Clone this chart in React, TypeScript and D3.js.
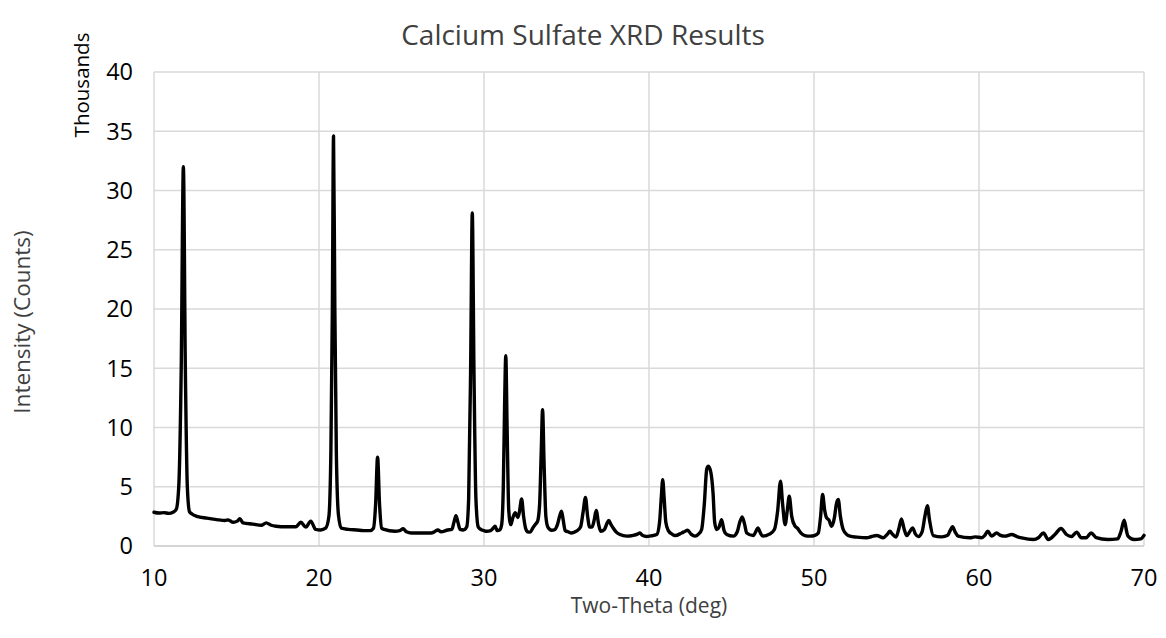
import React from "react";
import * as d3 from "d3";

const title = "Calcium Sulfate XRD Results";
const xTitle = "Two-Theta (deg)";
const yTitle = "Intensity (Counts)";
const yUnit = "Thousands";
const xTicks = [10, 20, 30, 40, 50, 60, 70];
const yTicks = [0, 5, 10, 15, 20, 25, 30, 35, 40];

// [two-theta (deg), intensity (thousands of counts)]
const pattern: [number, number][] = [
  [10.0, 2.85], [10.3, 2.78], [10.6, 2.82], [10.9, 2.75], [11.15, 2.85], [11.35, 3.1], [11.5, 5.0], [11.65, 15], [11.78, 32.0], [11.9, 15], [12.02, 5], [12.15, 2.9],
  [12.3, 2.7], [12.6, 2.5], [13.2, 2.35], [13.8, 2.23], [14.3, 2.15], [14.5, 2.2], [14.8, 2.0], [15.05, 2.1], [15.2, 2.3], [15.4, 1.95], [16.0, 1.85], [16.5, 1.75],
  [16.8, 1.95], [17.1, 1.75], [17.4, 1.67], [18.0, 1.62], [18.6, 1.62], [18.9, 2.0], [19.2, 1.6], [19.5, 2.1], [19.8, 1.4], [20.1, 1.35], [20.4, 1.5], [20.6, 2.5],
  [20.72, 8], [20.81, 20], [20.88, 34.6], [20.96, 20], [21.05, 8], [21.18, 2.6], [21.35, 1.5], [21.78, 1.4], [22.3, 1.35], [22.7, 1.3], [23.1, 1.3], [23.3, 1.5],
  [23.43, 3.5], [23.55, 7.49], [23.67, 3.5], [23.8, 1.5], [23.95, 1.4], [24.6, 1.25], [24.9, 1.3], [25.1, 1.45], [25.3, 1.2], [25.6, 1.1], [26.2, 1.1], [26.8, 1.1],
  [27.0, 1.2], [27.2, 1.35], [27.4, 1.2], [27.8, 1.35], [28.05, 1.4], [28.18, 2.0], [28.3, 2.55], [28.42, 2.0], [28.55, 1.4], [28.75, 1.35], [28.95, 1.6], [29.07, 4],
  [29.19, 15], [29.29, 28.1], [29.39, 15], [29.51, 4], [29.65, 1.6], [29.8, 1.4], [30.0, 1.3], [30.16, 1.25], [30.4, 1.3], [30.55, 1.5], [30.67, 1.67], [30.8, 1.3],
  [30.95, 1.35], [31.07, 1.8], [31.17, 5], [31.25, 12], [31.32, 16.06], [31.4, 10], [31.5, 3], [31.62, 1.8], [31.75, 2.4], [31.9, 2.8], [32.05, 2.4], [32.15, 2.9],
  [32.28, 3.98], [32.4, 2.5], [32.52, 1.5], [32.65, 1.2], [32.8, 1.17], [32.95, 1.5], [33.1, 1.8], [33.25, 2.1], [33.37, 3.5], [33.47, 8], [33.55, 11.5], [33.64, 7],
  [33.75, 2.5], [33.87, 1.6], [34.1, 1.33], [34.3, 1.4], [34.45, 1.8], [34.6, 2.6], [34.7, 2.93], [34.8, 2.2], [34.92, 1.3], [35.1, 1.2], [35.3, 1.1], [35.6, 1.25],
  [35.85, 1.6], [36.0, 2.8], [36.15, 4.1], [36.28, 2.5], [36.4, 1.6], [36.55, 1.6], [36.68, 2.2], [36.8, 3.0], [36.95, 1.8], [37.07, 1.25], [37.3, 1.4], [37.45, 1.9],
  [37.56, 2.15], [37.7, 1.8], [37.84, 1.5], [38.0, 1.2], [38.24, 0.97], [38.65, 0.83], [39.05, 0.9], [39.3, 1.0], [39.45, 1.1], [39.6, 0.9], [39.85, 0.8], [40.1, 0.85],
  [40.47, 0.97], [40.64, 2.0], [40.74, 4], [40.83, 5.6], [40.92, 4], [41.02, 2.0], [41.17, 1.3], [41.4, 1.0], [41.58, 0.88], [41.98, 1.1], [42.2, 1.25], [42.34, 1.33],
  [42.55, 1.0], [42.79, 0.83], [43.0, 1.0], [43.19, 1.4], [43.35, 3.5], [43.5, 6.5], [43.6, 6.73], [43.75, 6.2], [43.88, 4.5], [43.98, 2.0], [44.1, 1.39], [44.25, 1.6],
  [44.4, 2.23], [44.55, 1.3], [44.71, 0.97], [45.11, 0.83], [45.35, 1.2], [45.5, 2.0], [45.65, 2.46], [45.8, 1.8], [45.92, 1.1], [46.32, 0.88], [46.5, 1.3], [46.6, 1.53],
  [46.75, 1.1], [46.9, 0.83], [47.3, 1.0], [47.6, 1.39], [47.8, 3], [47.97, 5.47], [48.1, 3.5], [48.25, 1.8], [48.38, 3], [48.5, 4.2], [48.65, 2.5], [48.85, 1.67],
  [49.0, 1.5], [49.2, 1.1], [49.45, 0.88], [49.76, 0.83], [50.06, 0.9], [50.26, 1.1], [50.4, 2.5], [50.52, 4.34], [50.65, 3.0], [50.76, 2.38], [50.9, 2.2], [51.07, 1.67],
  [51.25, 2.5], [51.35, 3.5], [51.47, 3.92], [51.6, 2.5], [51.77, 1.39], [52.0, 0.95], [52.18, 0.83], [52.6, 0.75], [53.19, 0.69], [53.5, 0.8], [53.8, 0.88], [54.2, 0.7],
  [54.45, 1.0], [54.6, 1.25], [54.75, 1.0], [54.97, 0.75], [55.15, 1.5], [55.3, 2.29], [55.45, 1.5], [55.62, 0.88], [55.8, 1.2], [55.98, 1.53], [56.15, 1.0], [56.32, 0.8],
  [56.55, 1.2], [56.72, 2.5], [56.87, 3.41], [57.0, 2.2], [57.23, 0.88], [57.74, 0.77], [58.1, 0.9], [58.25, 1.3], [58.4, 1.62], [58.55, 1.2], [58.74, 0.83], [59.45, 0.69],
  [59.76, 0.77], [60.16, 0.7], [60.35, 0.9], [60.53, 1.25], [60.77, 0.83], [61.07, 1.1], [61.3, 0.9], [61.58, 0.83], [61.98, 0.97], [62.3, 0.8], [62.59, 0.69], [63.3, 0.55],
  [63.6, 0.7], [63.9, 1.1], [64.2, 0.55], [64.6, 0.97], [64.97, 1.48], [65.3, 0.97], [65.6, 0.8], [65.92, 1.17], [66.2, 0.69], [66.5, 0.7], [66.8, 1.1], [67.1, 0.7],
  [67.8, 0.55], [68.4, 0.6], [68.6, 1.2], [68.8, 2.18], [68.95, 1.2], [69.03, 0.83], [69.4, 0.55], [69.8, 0.6], [70.0, 0.9],
];

const W = 1166;
const H = 638;
const M = { left: 154, right: 1144, top: 72, bottom: 546 };
const FONT = "'Open Sans', 'Noto Sans', sans-serif";

export default function App() {
  const x = d3.scaleLinear().domain([10, 70]).range([M.left, M.right]);
  const y = d3.scaleLinear().domain([0, 40]).range([M.bottom, M.top]);
  const line = d3
    .line<[number, number]>()
    .x((d) => x(d[0]))
    .y((d) => y(d[1]))
    .curve(d3.curveMonotoneX);
  const cx = (M.left + M.right) / 2;
  return (
    <svg
      width={W}
      height={H}
      viewBox={`0 0 ${W} ${H}`}
      style={{ position: "absolute", left: 0, top: 0, background: "#fff" }}
      fontFamily={FONT}
    >
      <rect x={0} y={0} width={W} height={H} fill="#fff" />
      <text x={583} y={45} textAnchor="middle" fontSize={28} fill="#404040">
        {title}
      </text>
      {yTicks.map((t) => (
        <line key={"gy" + t} x1={M.left} x2={M.right} y1={y(t)} y2={y(t)} stroke="#d9d9d9" strokeWidth={1.5} />
      ))}
      {xTicks.map((t) => (
        <line key={"gx" + t} x1={x(t)} x2={x(t)} y1={M.top} y2={M.bottom} stroke="#d9d9d9" strokeWidth={1.5} />
      ))}
      <line x1={M.left} x2={M.right} y1={y(0)} y2={y(0)} stroke="#d0d0d0" strokeWidth={1.5} />
      <path d={line(pattern) || ""} fill="none" stroke="#000" strokeWidth={3.4} strokeLinejoin="round" strokeLinecap="round" />
      {yTicks.map((t) => (
        <text key={"ty" + t} x={M.left - 21} y={y(t)} dy="0.36em" textAnchor="end" fontSize={23.5} fill="#000">
          {t}
        </text>
      ))}
      {xTicks.map((t) => (
        <text key={"tx" + t} x={x(t)} y={M.bottom + 32} dy="0.36em" textAnchor="middle" fontSize={23.5} fill="#000">
          {t}
        </text>
      ))}
      <text x={cx} y={M.bottom + 67} textAnchor="middle" fontSize={21} fill="#404040">
        {xTitle}
      </text>
      <text transform={`translate(30, 322) rotate(-90)`} textAnchor="middle" fontSize={22.5} fill="#404040">
        {yTitle}
      </text>
      <text transform={`translate(89, 85) rotate(-90)`} textAnchor="middle" fontSize={20.5} fill="#000">
        {yUnit}
      </text>
    </svg>
  );
}
